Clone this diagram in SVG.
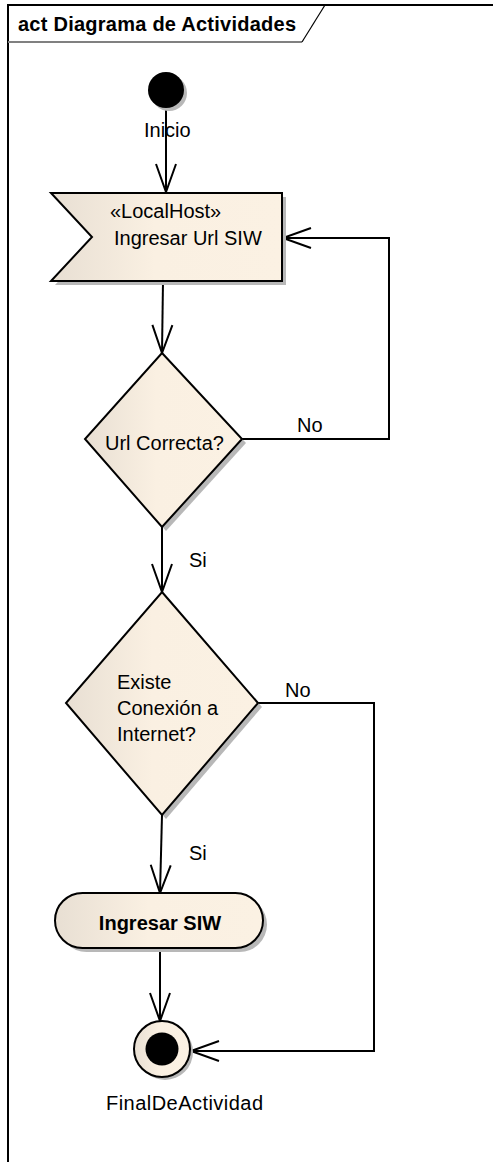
<svg xmlns="http://www.w3.org/2000/svg" width="493" height="1162" viewBox="0 0 493 1162">
<style>
.t{font-family:"Liberation Sans",Arial,sans-serif;font-size:20px;fill:#000}
.b{font-weight:bold}
.node{stroke:#000;stroke-width:2;fill:url(#g)}
.sh{fill:#b8b8b8;stroke:none}
.c{fill:none;stroke:#000;stroke-width:2}
</style>
<defs>
<linearGradient id="g" x1="0" y1="0" x2="1" y2="0">
<stop offset="0" stop-color="#E8DFD3"/>
<stop offset="0.45" stop-color="#FAF0E2"/>
<stop offset="1" stop-color="#FBF1E3"/>
</linearGradient>
<marker id="a" markerUnits="userSpaceOnUse" markerWidth="40" markerHeight="30" viewBox="-32 -15 40 30" refX="0" refY="0" orient="auto">
<path d="M-28,-10 L0,0 L-28,10" fill="none" stroke="#000" stroke-width="2"/>
</marker>
</defs>
<g id="frame">
<path d="M8,1162 V5 H493" fill="none" stroke="#000" stroke-width="2"/>
<line x1="8" y1="42" x2="302" y2="42" stroke="#808080" stroke-width="2"/>
<line x1="302" y1="42" x2="325" y2="5" stroke="#000" stroke-width="1.2"/>
<text class="t b" x="18" y="31" textLength="278">act Diagrama de Actividades</text>
</g>
<g id="connectors">
<path class="c" d="M166,108 V192" marker-end="url(#a)"/>
<path class="c" d="M163,281 L162,353" marker-end="url(#a)"/>
<path class="c" d="M242,439 H389 V238 H283" marker-end="url(#a)"/>
<path class="c" d="M162,527 V592" marker-end="url(#a)"/>
<path class="c" d="M258,703 H374 V1051 H191" marker-end="url(#a)"/>
<path class="c" d="M162,815 L160,893" marker-end="url(#a)"/>
<path class="c" d="M160,948 V1021" marker-end="url(#a)"/>
<text class="t" x="297" y="432">No</text>
<text class="t" x="189" y="567">Si</text>
<text class="t" x="285" y="697">No</text>
<text class="t" x="189" y="860">Si</text>
</g>
<g id="inicio">
<circle class="sh" cx="169" cy="93" r="18"/>
<circle cx="166" cy="90" r="18" fill="#000"/>
<text class="t" x="144" y="137">Inicio</text>
</g>
<g id="ingresar-url">
<path class="sh" d="M55,197 H286 V285 H55 L96,241 Z"/>
<path class="node" d="M51,193 H282 V281 H51 L92,237 Z"/>
<text class="t" x="110" y="218">«LocalHost»</text>
<text class="t" x="114" y="245">Ingresar Url SIW</text>
</g>
<g id="url-correcta">
<path class="sh" d="M166,357 L246,443 L166,531 L89,443 Z"/>
<path class="node" d="M162,353 L242,439 L162,527 L85,439 Z"/>
<text class="t" x="105" y="450">Url Correcta?</text>
</g>
<g id="conexion">
<path class="sh" d="M166,596 L262,707 L166,819 L70,707 Z"/>
<path class="node" d="M162,592 L258,703 L162,815 L66,703 Z"/>
<text class="t" x="117" y="689">Existe</text>
<text class="t" x="117" y="715">Conexión a</text>
<text class="t" x="117" y="741">Internet?</text>
</g>
<g id="ingresar-siw">
<rect class="sh" x="59" y="897" width="208" height="55" rx="27.5"/>
<rect class="node" x="55" y="893" width="208" height="55" rx="27.5"/>
<text class="t b" x="160" y="930" text-anchor="middle">Ingresar SIW</text>
</g>
<g id="final">
<circle class="sh" cx="165" cy="1052" r="28"/>
<circle class="node" cx="162" cy="1049" r="28"/>
<circle cx="162" cy="1049" r="16.5" fill="#000"/>
<text class="t" x="106" y="1110" textLength="157">FinalDeActividad</text>
</g>
</svg>
